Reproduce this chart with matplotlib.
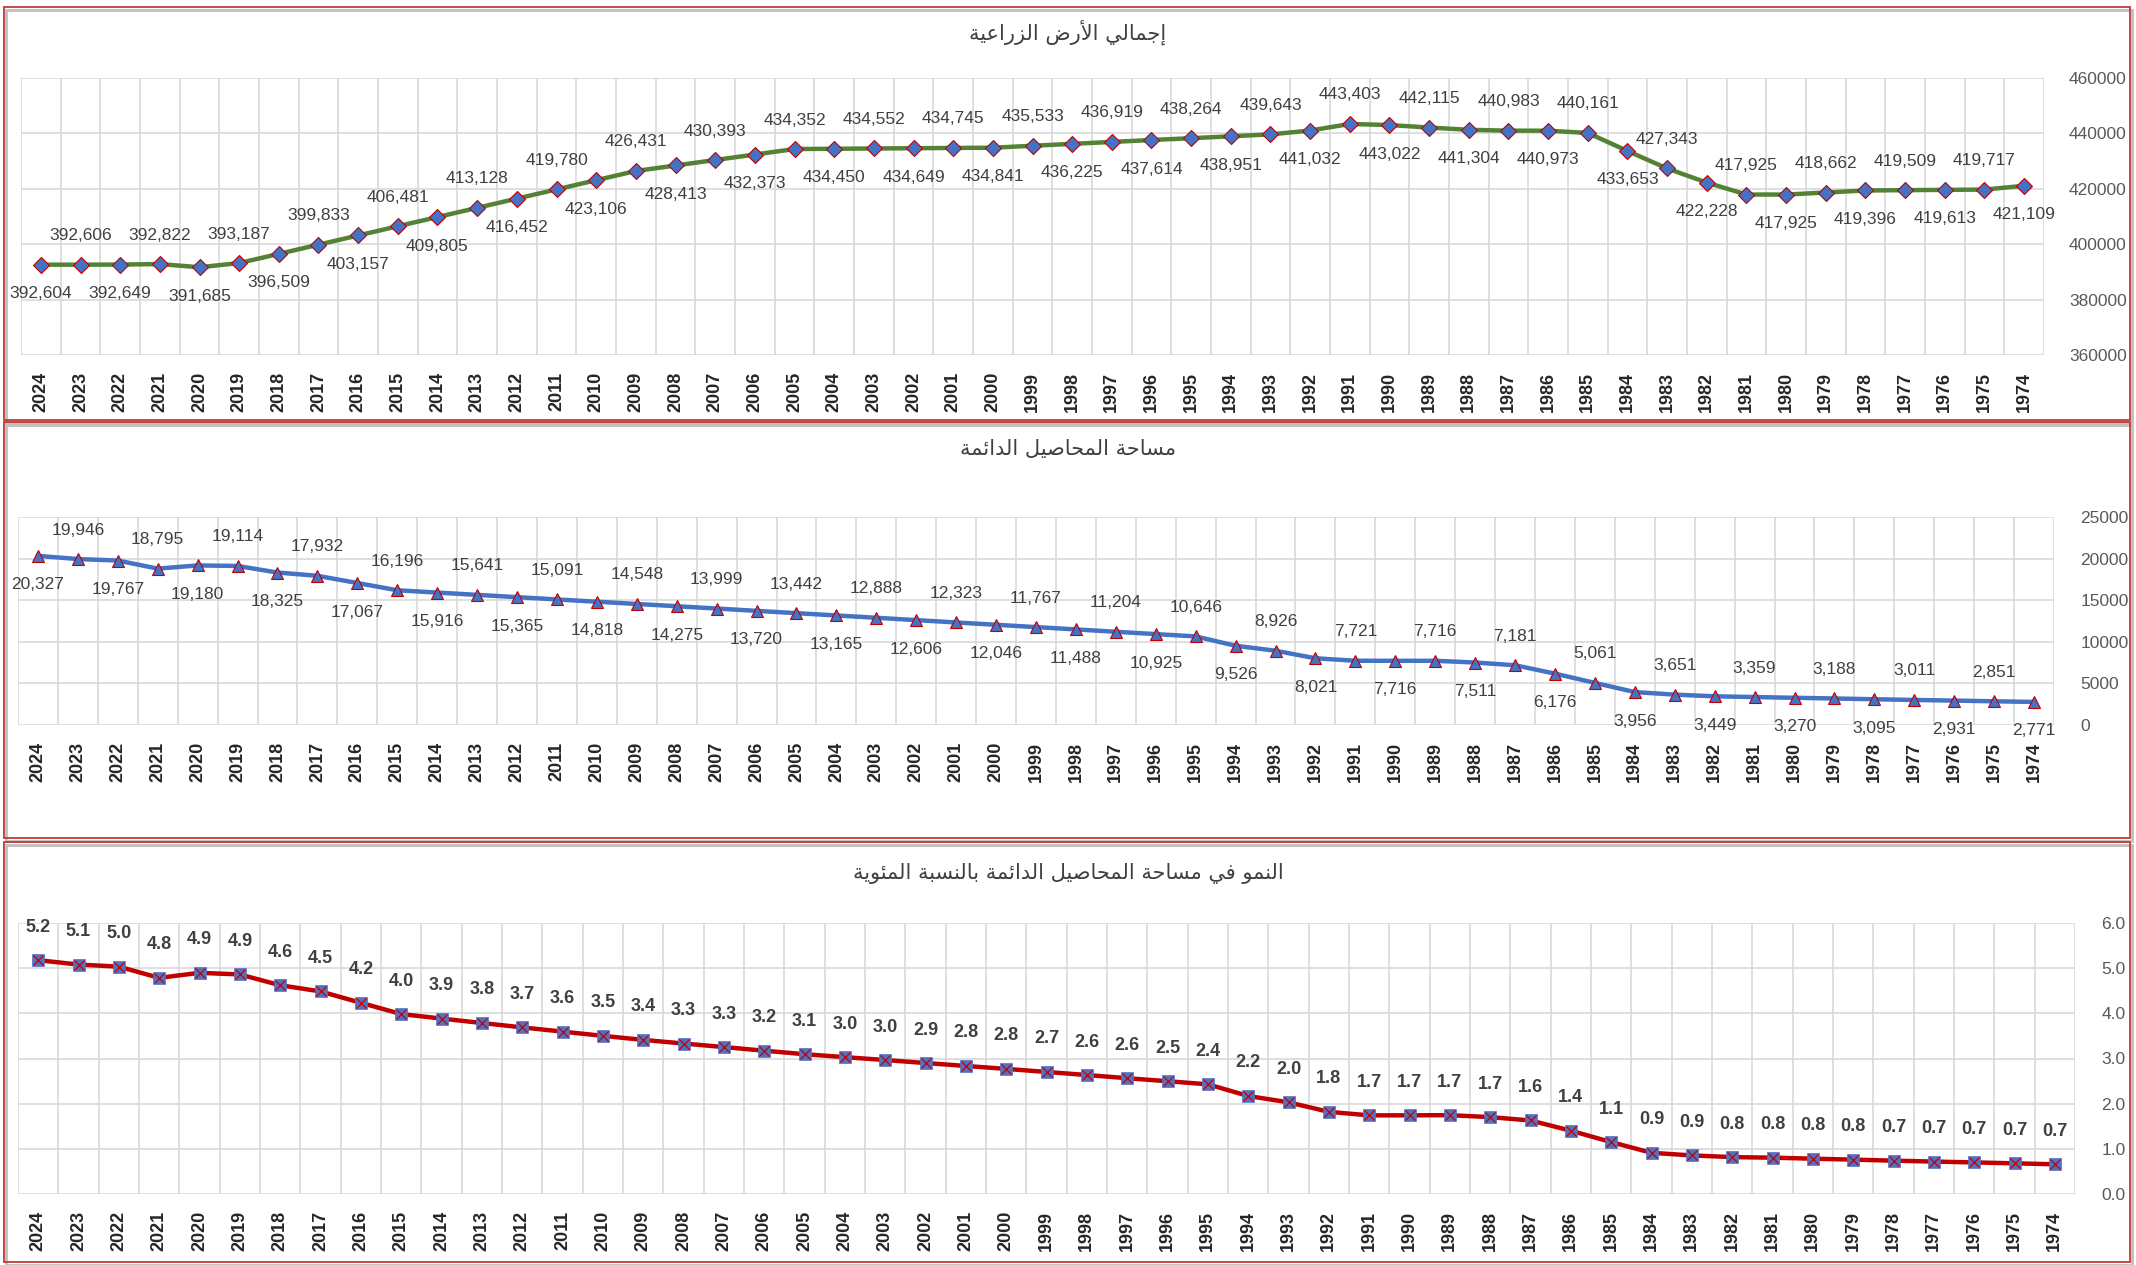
import numpy as np
import matplotlib
matplotlib.use("Agg")
import matplotlib.pyplot as plt
from matplotlib.patches import Rectangle

# ---------------- data ----------------
years = [str(y) for y in range(2024, 1973, -1)]

total_land = [392604, 392606, 392649, 392822, 391685, 393187, 396509, 399833, 403157,
              406481, 409805, 413128, 416452, 419780, 423106, 426431, 428413, 430393,
              432373, 434352, 434450, 434552, 434649, 434745, 434841, 435533, 436225,
              436919, 437614, 438264, 438951, 439643, 441032, 443403, 443022, 442115,
              441304, 440983, 440973, 440161, 433653, 427343, 422228, 417925, 417925,
              418662, 419396, 419509, 419613, 419717, 421109]

permanent_crops = [20327, 19946, 19767, 18795, 19180, 19114, 18325, 17932, 17067, 16196,
                   15916, 15641, 15365, 15091, 14818, 14548, 14275, 13999, 13720, 13442,
                   13165, 12888, 12606, 12323, 12046, 11767, 11488, 11204, 10925, 10646,
                   9526, 8926, 8021, 7721, 7716, 7716, 7511, 7181, 6176, 5061,
                   3956, 3651, 3449, 3359, 3270, 3188, 3095, 3011, 2931, 2851, 2771]

growth_pct = [5.177, 5.080, 5.034, 4.785, 4.897, 4.861, 4.622, 4.485, 4.233, 3.984,
              3.884, 3.786, 3.689, 3.595, 3.502, 3.412, 3.332, 3.253, 3.173, 3.095,
              3.030, 2.966, 2.900, 2.835, 2.770, 2.702, 2.634, 2.564, 2.497, 2.429,
              2.170, 2.030, 1.819, 1.741, 1.742, 1.7453, 1.702, 1.628, 1.401, 1.1498,
              0.912, 0.854, 0.817, 0.804, 0.782, 0.761, 0.738, 0.718, 0.699, 0.679, 0.658]

title1 = "إجمالي الأرض الزراعية"
title2 = "مساحة المحاصيل الدائمة"
title3 = "النمو في مساحة المحاصيل الدائمة بالنسبة المئوية"

# ---------------- minimal Arabic shaping (presentation forms) ----------------
_AR = {
    '\u0621': (0xFE80, 'N'), '\u0622': (0xFE81, 'R'), '\u0623': (0xFE83, 'R'),
    '\u0624': (0xFE85, 'R'), '\u0625': (0xFE87, 'R'), '\u0626': (0xFE89, 'D'),
    '\u0627': (0xFE8D, 'R'), '\u0628': (0xFE8F, 'D'), '\u0629': (0xFE93, 'R'),
    '\u062A': (0xFE95, 'D'), '\u062B': (0xFE99, 'D'), '\u062C': (0xFE9D, 'D'),
    '\u062D': (0xFEA1, 'D'), '\u062E': (0xFEA5, 'D'), '\u062F': (0xFEA9, 'R'),
    '\u0630': (0xFEAB, 'R'), '\u0631': (0xFEAD, 'R'), '\u0632': (0xFEAF, 'R'),
    '\u0633': (0xFEB1, 'D'), '\u0634': (0xFEB5, 'D'), '\u0635': (0xFEB9, 'D'),
    '\u0636': (0xFEBD, 'D'), '\u0637': (0xFEC1, 'D'), '\u0638': (0xFEC5, 'D'),
    '\u0639': (0xFEC9, 'D'), '\u063A': (0xFECD, 'D'), '\u0641': (0xFED1, 'D'),
    '\u0642': (0xFED5, 'D'), '\u0643': (0xFED9, 'D'), '\u0644': (0xFEDD, 'D'),
    '\u0645': (0xFEE1, 'D'), '\u0646': (0xFEE5, 'D'), '\u0647': (0xFEE9, 'D'),
    '\u0648': (0xFEED, 'R'), '\u0649': (0xFEEF, 'R'), '\u064A': (0xFEF1, 'D'),
}
_LAMALEF = {'\u0622': 0xFEF5, '\u0623': 0xFEF7, '\u0625': 0xFEF9, '\u0627': 0xFEFB}


def shape_ar(text):
    units = []
    i = 0
    while i < len(text):
        c = text[i]
        if c == '\u0644' and i + 1 < len(text) and text[i + 1] in _LAMALEF:
            units.append(('LA', text[i + 1]))
            i += 2
        else:
            units.append(('C', c))
            i += 1

    def joins_next(u):
        if u[0] == 'LA':
            return False
        inf = _AR.get(u[1])
        return bool(inf and inf[1] == 'D')

    def joins_prev(u):
        if u[0] == 'LA':
            return True
        inf = _AR.get(u[1])
        return bool(inf and inf[1] in 'DR')

    out = []
    for k, u in enumerate(units):
        prev = units[k - 1] if k > 0 else None
        nxt = units[k + 1] if k + 1 < len(units) else None
        cp = prev is not None and joins_next(prev) and joins_prev(u)
        cn = nxt is not None and joins_next(u) and joins_prev(nxt)
        if u[0] == 'LA':
            base = _LAMALEF[u[1]]
            out.append(chr(base + 1 if cp else base))
            continue
        inf = _AR.get(u[1])
        if inf is None:
            out.append(u[1])
            continue
        base, typ = inf
        if typ == 'N':
            out.append(chr(base))
        elif typ == 'R':
            out.append(chr(base + 1 if cp else base))
        else:
            f = 3 if (cp and cn) else 2 if cn else 1 if cp else 0
            out.append(chr(base + f))
    return ''.join(reversed(out))


# ---------------- styling ----------------
plt.rcParams['font.family'] = ['Liberation Sans', 'DejaVu Sans']
W, H = 2136, 1265
fig = plt.figure(figsize=(W / 100, H / 100), dpi=100)
fig.patch.set_facecolor('white')

GRID = '#D9D9D9'
LABEL = '#404040'
TICK = '#595959'
YEAR = '#262626'
MBLUE = '#4472C4'
MRED = '#C00000'


def px_axes(x0, y0, x1, y1):
    return fig.add_axes([x0 / W, 1 - y1 / H, (x1 - x0) / W, (y1 - y0) / H])


def panel_border(y0, y1):
    fig.patches.append(Rectangle((6 / W, 1 - (y1 + 3) / H), (W - 10) / W, (y1 - y0) / H,
                                 transform=fig.transFigure, fill=False,
                                 edgecolor='#BFBFBF', lw=2.0, zorder=0))
    fig.patches.append(Rectangle((4 / W, 1 - y1 / H), (W - 10) / W, (y1 - y0) / H,
                                 transform=fig.transFigure, fill=False,
                                 edgecolor='#C0393B', lw=1.3, zorder=1))


def style_axes(ax, ymin, ymax, ystep, fmt, ypad):
    n = len(years)
    x = np.arange(n)
    ax.set_xlim(-0.5, n - 0.5)
    ax.set_ylim(ymin, ymax)
    ax.set_xticks(x)
    ax.set_xticklabels(years, rotation=90, fontsize=13, fontweight='bold', color=YEAR)
    ax.set_xticks(np.arange(-0.5, n, 1.0), minor=True)
    ax.set_yticks(np.arange(ymin, ymax + ystep * 0.5, ystep))
    ax.yaxis.set_major_formatter(matplotlib.ticker.FuncFormatter(lambda v, p: fmt(v)))
    ax.yaxis.tick_right()
    ax.tick_params(axis='y', length=0, pad=ypad, labelsize=12.5, labelcolor=TICK)
    ax.tick_params(axis='x', which='both', length=0, pad=12)
    ax.grid(True, axis='y', which='major', color=GRID, lw=1.2)
    ax.grid(True, axis='x', which='minor', color=GRID, lw=1.2)
    for s in ax.spines.values():
        s.set_visible(False)
    ax.set_axisbelow(True)
    return x


# ---------------- panel 1 ----------------
panel_border(7, 420)
ax1 = px_axes(21, 78, 2044, 355)
x = style_axes(ax1, 360000, 460000, 20000, lambda v: f"{v:.0f}", 18)
ax1.plot(x, total_land, color='#548235', lw=3.2, marker='D', ms=8,
         mfc=MBLUE, mec=MRED, mew=0.8, zorder=3)
for i, v in enumerate(total_land):
    dy = -29 if i % 2 == 0 else 29
    ax1.annotate(f"{v:,}", (i, v), xytext=(0, dy), textcoords='offset pixels',
                 ha='center', va='center', fontsize=12.5, color=LABEL)
fig.text(0.5, 1 - 32 / H, shape_ar(title1), ha='center', va='center',
         fontsize=15, color='#404040', family=['DejaVu Sans'])

# ---------------- panel 2 ----------------
panel_border(422, 838)
ax2 = px_axes(18, 517, 2054, 725)
x = style_axes(ax2, 0, 25000, 5000, lambda v: f"{v:.0f}", 19)
ax2.plot(x, permanent_crops, color=MBLUE, lw=3.2, marker='^', ms=9,
         mfc=MBLUE, mec=MRED, mew=0.8, zorder=3)
for i, v in enumerate(permanent_crops):
    dy = -29 if i % 2 == 0 else 29
    ax2.annotate(f"{v:,}", (i, v), xytext=(0, dy), textcoords='offset pixels',
                 ha='center', va='center', fontsize=12.5, color=LABEL)
fig.text(0.5, 1 - 449 / H, shape_ar(title2), ha='center', va='center',
         fontsize=15, color='#404040', family=['DejaVu Sans'])

# ---------------- panel 3 ----------------
panel_border(842, 1262)
ax3 = px_axes(18, 923, 2075, 1194)
x = style_axes(ax3, 0, 6, 1, lambda v: f"{v:.1f}", 19)
ax3.plot(x, growth_pct, color=MRED, lw=3.2, marker='s', ms=9,
         mfc='#5470C0', mec='#5470C0', mew=0.5, zorder=3)
ax3.plot(x, growth_pct, lw=0, marker='x', ms=7, mec=MRED, mew=0.9, zorder=4)
for i, v in enumerate(growth_pct):
    ax3.annotate(f"{v:.1f}", (i, v), xytext=(0, 33), textcoords='offset pixels',
                 ha='center', va='center', fontsize=13, fontweight='bold', color=LABEL)
fig.text(0.5, 1 - 873 / H, shape_ar(title3), ha='center', va='center',
         fontsize=15, color='#404040', family=['DejaVu Sans'])

fig.savefig('out.png', dpi=100, facecolor='white')
